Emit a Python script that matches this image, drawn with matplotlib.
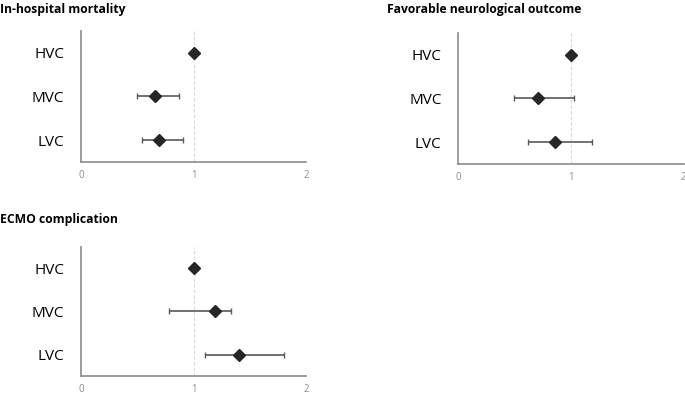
import matplotlib.pyplot as plt

plt.rcParams['font.family'] = ['Open Sans', 'DejaVu Sans']

groups = ["HVC", "MVC", "LVC"]

titles = ["In-hospital mortality", "Favorable neurological outcome", "ECMO complication"]

# odds ratio, lower CI, upper CI for each group (HVC = reference)
mortality_or = [1.0, 0.655, 0.696]
mortality_lo = [1.0, 0.497, 0.545]
mortality_hi = [1.0, 0.869, 0.905]

neuro_or = [1.0, 0.709, 0.857]
neuro_lo = [1.0, 0.497, 0.622]
neuro_hi = [1.0, 1.027, 1.185]

ecmo_or = [1.0, 1.19, 1.405]
ecmo_lo = [1.0, 0.786, 1.098]
ecmo_hi = [1.0, 1.333, 1.80]

x_ticks = [0, 1, 2]

fig = plt.figure(figsize=(6.85, 3.95), dpi=100)

# axes rectangles (figure fraction)
rects = [
    [0.118, 0.590, 0.329, 0.332],
    [0.669, 0.585, 0.329, 0.332],
    [0.118, 0.048, 0.329, 0.327],
]
title_pos = [(0.0, 0.977), (0.565, 0.977), (0.0, 0.445)]

data = [
    (mortality_or, mortality_lo, mortality_hi),
    (neuro_or, neuro_lo, neuro_hi),
    (ecmo_or, ecmo_lo, ecmo_hi),
]

for rect, tpos, title, (est, lo, hi) in zip(rects, title_pos, titles, data):
    ax = fig.add_axes(rect)
    ypos = [3, 2, 1]
    ax.axvline(1, color='#d9d9d9', linestyle=(0, (3, 2)), linewidth=0.8, zorder=0)
    for y, e, l, h in zip(ypos, est, lo, hi):
        if h > l:
            ax.errorbar(e, y, xerr=[[e - l], [h - e]], fmt='none', ecolor='#595959',
                        elinewidth=1.2, capsize=2.5, capthick=1.0, zorder=2)
    ax.plot(est, ypos, linestyle='none', marker='D', markersize=6.5, color='#262626', zorder=3)

    ax.set_xlim(0, 2)
    ax.set_ylim(0.5, 3.5)
    ax.set_xticks(x_ticks)
    ax.set_xticklabels([str(t) for t in x_ticks])
    ax.set_yticks(ypos)
    ax.set_yticklabels(groups)
    ax.tick_params(axis='x', length=0, pad=6, labelsize=7, labelcolor='#8c8c8c')
    ax.tick_params(axis='y', length=0, pad=12, labelsize=11, labelcolor='black')
    for s in ['top', 'right']:
        ax.spines[s].set_visible(False)
    for s in ['left', 'bottom']:
        ax.spines[s].set_color('#8c8c8c')
        ax.spines[s].set_linewidth(1.2)

    fig.text(tpos[0], tpos[1], title, fontsize=8.7, fontweight='bold', ha='left', va='center')

fig.savefig("out.png", dpi=100)
